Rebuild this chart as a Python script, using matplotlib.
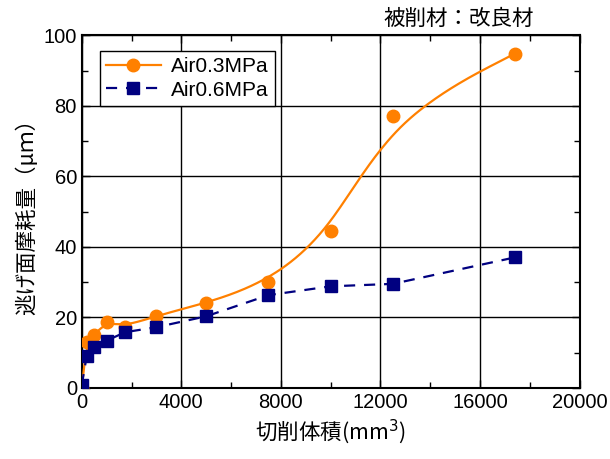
import numpy as np
import matplotlib
matplotlib.use("Agg")
import matplotlib.pyplot as plt
from matplotlib.ticker import MultipleLocator

plt.rcParams['font.family'] = ['Liberation Sans', 'Noto Sans CJK JP', 'DejaVu Sans']

# data
volume = [0, 200, 500, 1000, 1750, 3000, 5000, 7500, 10000, 12500, 17400]
wear_03 = [0, 12.9, 15.0, 18.8, 17.4, 20.5, 24.0, 30.1, 44.4, 77.0, 94.8]
wear_06 = [0.8, 9.0, 11.5, 13.4, 15.8, 17.2, 20.3, 26.3, 28.8, 29.5, 37.0]


def bspline(xs, ys, n=40):
    # uniform cubic B-spline, end points repeated so the curve ends on them
    px = np.r_[[xs[0]] * 2, xs, [xs[-1]] * 2].astype(float)
    py = np.r_[[ys[0]] * 2, ys, [ys[-1]] * 2].astype(float)
    t = np.linspace(0, 1, n)
    b0 = (1 - t) ** 3 / 6
    b1 = (3 * t**3 - 6 * t**2 + 4) / 6
    b2 = (-3 * t**3 + 3 * t**2 + 3 * t + 1) / 6
    b3 = t**3 / 6
    cx, cy = [], []
    for i in range(len(px) - 3):
        cx.append(b0 * px[i] + b1 * px[i + 1] + b2 * px[i + 2] + b3 * px[i + 3])
        cy.append(b0 * py[i] + b1 * py[i + 1] + b2 * py[i + 2] + b3 * py[i + 3])
    return np.concatenate(cx), np.concatenate(cy)


fig = plt.figure(figsize=(6.1, 4.59), dpi=100)
ax = fig.add_axes([0.134, 0.155, 0.816, 0.768])

orange = '#FF8000'
navy = '#000080'
cjk = ['Noto Sans CJK JP', 'DejaVu Sans']

sx, sy = bspline(volume, wear_03)
ax.plot(sx, sy, color=orange, lw=1.6, zorder=3)
ax.plot(volume, wear_03, 'o', color=orange, ms=9, zorder=4)
ax.plot([], [], '-o', color=orange, lw=1.6, ms=9, label='Air0.3MPa')

ax.plot(volume, wear_06, 's--', color=navy, lw=1.6, ms=8, dashes=(5, 4),
        zorder=4, label='Air0.6MPa')

ax.set_xlim(0, 20000)
ax.set_ylim(0, 100)
ax.xaxis.set_major_locator(MultipleLocator(4000))
ax.xaxis.set_minor_locator(MultipleLocator(2000))
ax.yaxis.set_major_locator(MultipleLocator(20))
ax.yaxis.set_minor_locator(MultipleLocator(10))
ax.tick_params(which='both', direction='in', top=True, right=True, labelsize=14.5)
ax.tick_params(which='major', length=6, width=1)
ax.tick_params(which='minor', length=4, width=1)
ax.grid(True, which='major', color='black', lw=1, zorder=0)
for s in ax.spines.values():
    s.set_linewidth(1.5)

ax.set_xlabel('切削体積(mm$^3$)', fontsize=15.5, family=cjk, labelpad=4)
ax.set_ylabel('逃げ面摩耗量（μｍ）', fontsize=15.5, family=cjk, labelpad=4)
fig.text(0.628, 0.958, '被削材：改良材', fontsize=15.5, family=cjk,
         ha='left', va='center')

leg = ax.legend(loc='upper left', bbox_to_anchor=(0.037, 0.955), borderaxespad=0,
                fontsize=15, handlelength=2.6, fancybox=False, edgecolor='black',
                framealpha=1, borderpad=0.3, labelspacing=0.2, handletextpad=0.5)
leg.get_frame().set_linewidth(1)

fig.savefig('out.png', dpi=100)
